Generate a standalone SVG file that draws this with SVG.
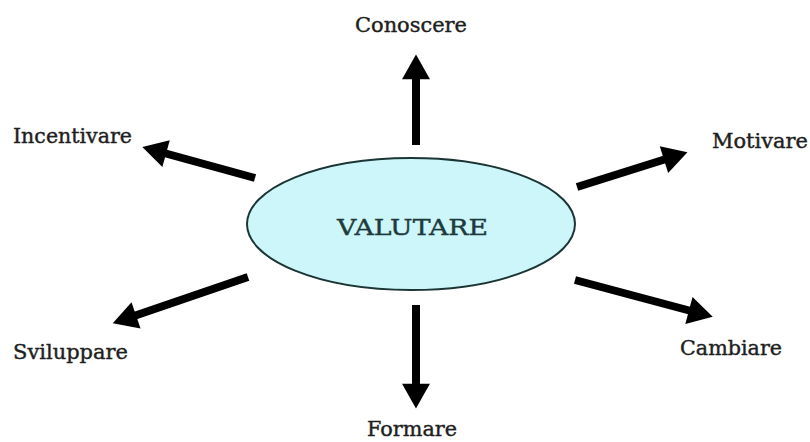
<svg xmlns="http://www.w3.org/2000/svg" width="810" height="442" viewBox="0 0 810 442">
<style>
.lbl{font-family:"DejaVu Serif","Liberation Serif",serif;font-size:20px;fill:#1e1e1e;stroke:#1e1e1e;stroke-width:0.4}
.main{font-family:"DejaVu Serif","Liberation Serif",serif;font-size:23px;fill:#1f3a3c;stroke:#1f3a3c;stroke-width:0.4}
.arr{stroke:#000;stroke-width:8;fill:none;marker-end:url(#ah)}
</style>
<defs>
<marker id="ah" markerUnits="userSpaceOnUse" markerWidth="30" markerHeight="30" viewBox="0 -14 24 28" refX="2" refY="0" orient="auto">
<path d="M0,-13 L23,0 L0,13 Z" fill="#000"/>
</marker>
</defs>
<rect width="810" height="442" fill="#fff"/>
<g id="connectors">
<line class="arr" x1="416" y1="145" x2="416" y2="77"/>
<line class="arr" x1="416" y1="305" x2="416" y2="386"/>
<line class="arr" x1="255" y1="178" x2="164" y2="153"/>
<line class="arr" x1="577" y1="187" x2="666" y2="159"/>
<line class="arr" x1="248" y1="277" x2="134" y2="316"/>
<line class="arr" x1="575" y1="280" x2="691" y2="311"/>
</g>
<g id="valutare">
<ellipse cx="411" cy="224" rx="164" ry="66" fill="#ccf6fa" stroke="#1b3534" stroke-width="2"/>
<text class="main" x="337" y="235" textLength="151" lengthAdjust="spacingAndGlyphs">VALUTARE</text>
</g>
<g id="conoscere"><text class="lbl" x="355" y="32" textLength="112" lengthAdjust="spacingAndGlyphs">Conoscere</text></g>
<g id="incentivare"><text class="lbl" x="13" y="143" textLength="119" lengthAdjust="spacingAndGlyphs">Incentivare</text></g>
<g id="motivare"><text class="lbl" x="712" y="148" textLength="96" lengthAdjust="spacingAndGlyphs">Motivare</text></g>
<g id="sviluppare"><text class="lbl" x="13" y="359" textLength="115" lengthAdjust="spacingAndGlyphs">Sviluppare</text></g>
<g id="cambiare"><text class="lbl" x="680" y="355" textLength="102" lengthAdjust="spacingAndGlyphs">Cambiare</text></g>
<g id="formare"><text class="lbl" x="367" y="436" textLength="90" lengthAdjust="spacingAndGlyphs">Formare</text></g>
</svg>
